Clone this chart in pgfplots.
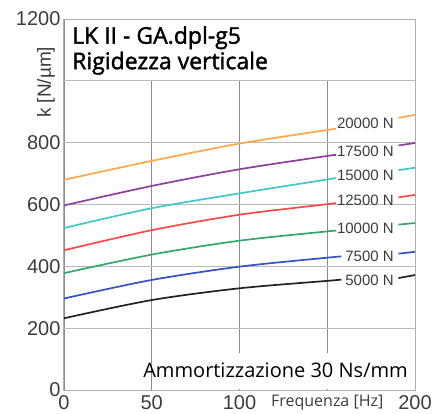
\documentclass[border=0pt]{standalone}
\usepackage{fontspec}
\setmainfont{Liberation Sans}
\newfontfamily\osans{Open Sans}
\newfontfamily\osansb{Open Sans}[FakeBold=1.6]
\usepackage{pgfplots}
\pgfplotsset{compat=1.18}

\definecolor{corange}{RGB}{255,168,72}
\definecolor{cpurple}{RGB}{142,62,160}
\definecolor{ccyan}{RGB}{64,200,200}
\definecolor{cred}{RGB}{255,72,72}
\definecolor{cgreen}{RGB}{50,168,108}
\definecolor{cblue}{RGB}{52,82,200}
\definecolor{cblack}{RGB}{34,34,34}
\definecolor{tickgray}{RGB}{60,60,60}
\definecolor{framegray}{RGB}{175,175,175}

\begin{document}
\begin{tikzpicture}
  \begin{axis}[
      name=ax,
      scale only axis,
      clip=false,
      width=351pt, height=371pt,
      xmin=0, xmax=200,
      ymin=0, ymax=1200,
      xtick={0,50,100,150,200},
      xticklabels={0,50,100,{\osans\fontsize{16}{16}\selectfont\raisebox{2pt}{Frequenza [Hz]}},200},
      ytick={0,200,400,600,800,1000,1200},
      yticklabels={0,200,400,600,800,,1200},
      tick style={draw=none},
      ticklabel style={font=\fontsize{20}{20}\selectfont, text=tickgray},
      xticklabel style={yshift=-2pt},
      /pgf/number format/assume math mode=true,
      axis line style={draw=framegray, line width=1pt},
      xmajorgrids, ymajorgrids,
      major x grid style={draw=gray!90, line width=0.6pt},
      major y grid style={draw=gray!55, line width=1pt},
      every axis plot/.append style={line width=1.7pt},
    ]
    % 5000 N
    \addplot[cblack, smooth] coordinates {(0,232)(50,291)(100,329)(150,353)(158,357)};
    \addplot[cblack] coordinates {(190.6,362)(200,372)};
    % 7500 N
    \addplot[cblue, smooth] coordinates {(0,296)(50,356)(100,399)(150,428)(158,432)};
    \addplot[cblue] coordinates {(190.6,441)(200,447)};
    % 10000 N
    \addplot[cgreen, smooth] coordinates {(0,378)(50,438)(100,483)(150,513)(154.5,515)};
    \addplot[cgreen] coordinates {(190.6,535)(200,540)};
    % 12500 N
    \addplot[cred, smooth] coordinates {(0,452)(50,517)(100,567)(150,601)(154.5,604)};
    \addplot[cred] coordinates {(190.6,623)(200,631)};
    % 15000 N
    \addplot[ccyan, smooth] coordinates {(0,524)(50,588)(100,636)(150,681)(154.5,685)};
    \addplot[ccyan] coordinates {(190.6,711)(200,719)};
    % 17500 N
    \addplot[cpurple, smooth] coordinates {(0,597)(50,660)(100,714)(150,757)(154.5,760)};
    \addplot[cpurple] coordinates {(190.6,791)(200,799)};
    % 20000 N
    \addplot[corange, smooth] coordinates {(0,680)(50,741)(100,797)(150,841)(154.5,845)};
    \addplot[corange] coordinates {(190.6,880)(200,890)};

    % curve labels
    \begin{scope}[every node/.style={anchor=east, inner sep=0pt,
        font=\fontsize{15}{15}\selectfont, text=tickgray}]
      \node at (axis cs:188,861) {20000 N};
      \node at (axis cs:188,772) {17500 N};
      \node at (axis cs:188,695) {15000 N};
      \node at (axis cs:188,615) {12500 N};
      \node at (axis cs:188,524) {10000 N};
      \node at (axis cs:188,433) {7500 N};
      \node at (axis cs:188,355) {5000 N};
    \end{scope}

    % title box
    \fill[white] (axis cs:0.6,1002) rectangle (axis cs:199.4,1198);
    \node[anchor=north west, align=left, inner sep=0pt,
      font=\osansb\fontsize{23}{25.5}\selectfont]
      at ([xshift=8pt,yshift=-7pt]axis cs:0,1200)
      {LK II - GA.dpl-g5\\Rigidezza verticale};

    % damping note
    \fill[white] (axis cs:56,2) rectangle (axis cs:199.4,119);
    \node[anchor=base east, inner sep=0pt, font=\osans\fontsize{20}{20}\selectfont]
      at ([xshift=-7pt,yshift=13pt]axis cs:200,0) {Ammortizzazione 30 Ns/mm};

    % y label
    \node[rotate=90, anchor=south, inner sep=0pt,
      font=\fontsize{19}{19}\selectfont, text=tickgray]
      at ([xshift=-9pt]axis cs:0,995) {k [N/µm]};
  \end{axis}
  \pgfresetboundingbox
  \path ([xshift=-64pt,yshift=-23pt]ax.south west) rectangle ([xshift=18pt,yshift=19pt]ax.north east);
\end{tikzpicture}
\end{document}
